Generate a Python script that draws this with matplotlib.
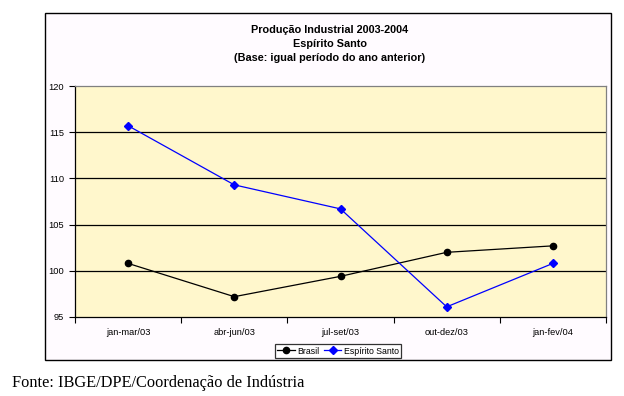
import matplotlib
matplotlib.use("Agg")
import matplotlib.pyplot as plt
from matplotlib.patches import Rectangle

categories = ["jan-mar/03", "abr-jun/03", "jul-set/03", "out-dez/03", "jan-fev/04"]
brasil = [100.8, 97.2, 99.4, 102.0, 102.7]
espirito_santo = [115.7, 109.3, 106.7, 96.1, 100.8]
yticks = [95, 100, 105, 110, 115, 120]
title_lines = ["Produção Industrial 2003-2004", "Espírito Santo", "(Base: igual período do ano anterior)"]

W, H = 624, 396
fig = plt.figure(figsize=(W / 100, H / 100), dpi=100)
fig.patch.set_facecolor("white")

# outer chart box
bx0, by0, bx1, by1 = 45, 13, 611, 360
fig.patches.append(Rectangle((bx0 / W, 1 - by1 / H), (bx1 - bx0) / W, (by1 - by0) / H,
                             transform=fig.transFigure, facecolor="#FFFBFF",
                             edgecolor="black", linewidth=1.0, zorder=-1))

px0, py0, px1, py1 = 75, 86, 606, 317
ax = fig.add_axes([px0 / W, 1 - py1 / H, (px1 - px0) / W, (py1 - py0) / H])
ax.set_zorder(1)
ax.set_facecolor("#FFF7CC")

x = list(range(len(categories)))
ax.plot(x, brasil, color="black", linewidth=0.9, marker="o", markersize=4.5, label="Brasil", zorder=3)
ax.plot(x, espirito_santo, color="#0000FF", linewidth=0.9, marker="D", markersize=4,
        label="Espírito Santo", zorder=3)

ax.set_xlim(-0.5, len(categories) - 0.5)
ax.set_ylim(95, 120)
ax.set_yticks(yticks)
ax.set_yticklabels([str(t) for t in yticks], fontsize=6.7, family="Liberation Sans")
for t in yticks[1:-1]:
    ax.axhline(t, color="black", linewidth=0.9, zorder=1)

ax.set_xticks([i - 0.5 for i in range(len(categories) + 1)])
ax.set_xticklabels([])
ax.set_xticks(x, minor=True)
ax.set_xticklabels(categories, minor=True, fontsize=6.7, family="Liberation Sans")
ax.tick_params(axis="x", which="minor", length=0, pad=8)
ax.tick_params(axis="x", which="major", length=4, width=0.8, direction="out", color="black")
ax.tick_params(axis="y", length=4, width=0.8, direction="out", pad=4)

ax.spines["top"].set_color("#808080")
ax.spines["right"].set_color("#808080")
ax.spines["left"].set_color("black")
ax.spines["bottom"].set_color("black")
for s in ax.spines.values():
    s.set_linewidth(0.9)

# title
for i, line in enumerate(title_lines):
    fig.text(330 / W, 1 - (30 + i * 14) / H, line, ha="center", va="center",
             fontsize=7.8, fontweight="bold", family="Liberation Sans")

leg = fig.legend(loc="center", bbox_to_anchor=(338 / W, 1 - 351 / H), ncol=2,
                 prop={"family": "Liberation Sans", "size": 6.3}, frameon=True,
                 fancybox=False, edgecolor="black", handlelength=2.0, handletextpad=0.3,
                 columnspacing=0.5, borderpad=0.25, borderaxespad=0)
leg.get_frame().set_linewidth(0.9)
leg.get_frame().set_facecolor("white")

fig.text(12 / W, 1 - 383 / H, "Fonte: IBGE/DPE/Coordenação de Indústria", ha="left", va="center",
         fontsize=11.8, family="Liberation Serif")

fig.savefig("out.png", dpi=100)
